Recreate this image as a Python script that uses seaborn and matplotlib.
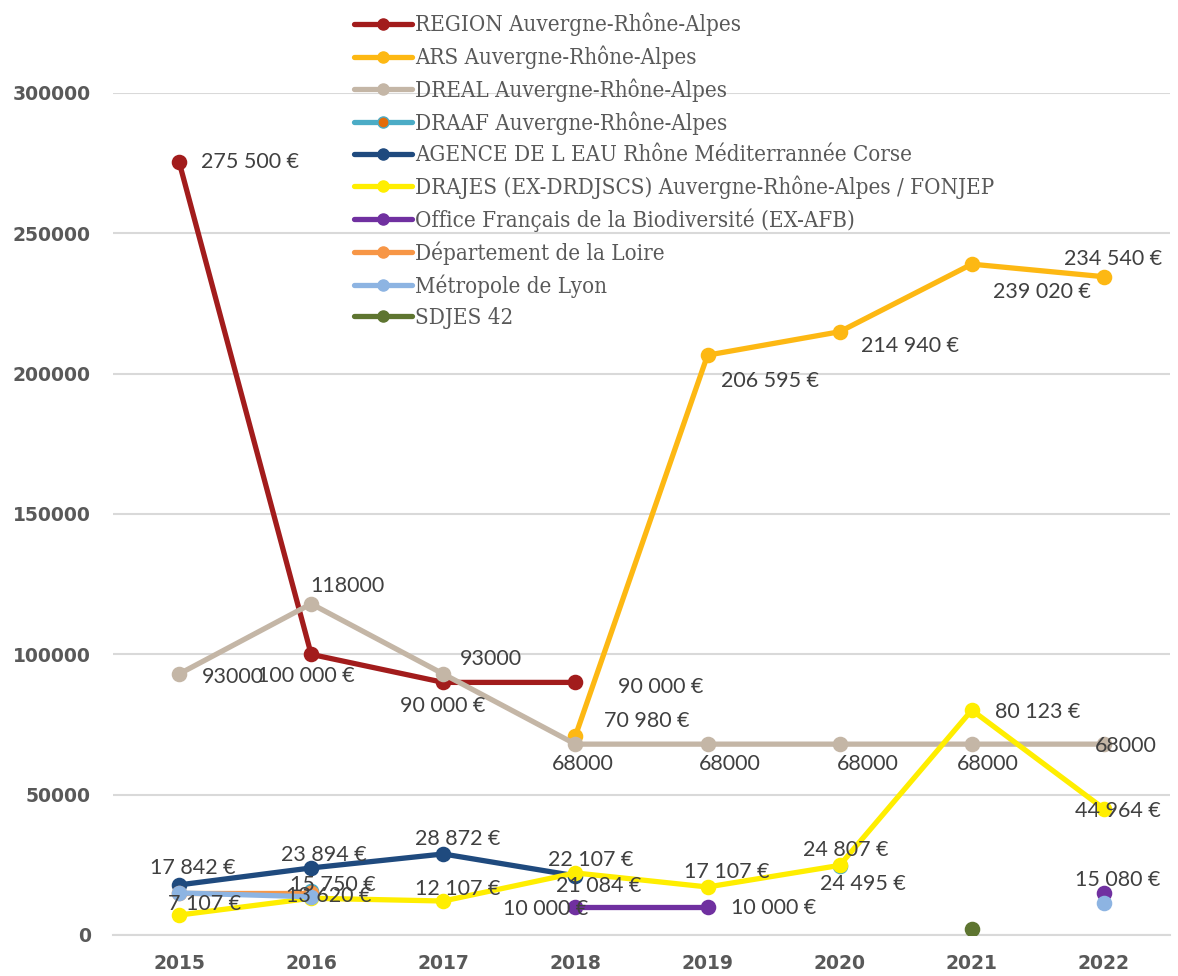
import numpy as np
import pandas as pd
import matplotlib
matplotlib.use("Agg")
import matplotlib.pyplot as plt
from matplotlib.lines import Line2D
import seaborn as sns

years = ["2015", "2016", "2017", "2018", "2019", "2020", "2021", "2022"]
nan = np.nan

series_names = [
    "REGION Auvergne-Rhône-Alpes",
    "ARS Auvergne-Rhône-Alpes",
    "DREAL Auvergne-Rhône-Alpes",
    "DRAAF Auvergne-Rhône-Alpes",
    "AGENCE DE L EAU Rhône Méditerrannée Corse",
    "DRAJES (EX-DRDJSCS) Auvergne-Rhône-Alpes / FONJEP",
    "Office Français de la Biodiversité (EX-AFB)",
    "Département de la Loire",
    "Métropole de Lyon",
    "SDJES 42",
]

region = [275500, 100000, 90000, 90000, nan, nan, nan, nan]
ars = [nan, nan, nan, 70980, 206595, 214940, 239020, 234540]
dreal = [93000, 118000, 93000, 68000, 68000, 68000, 68000, 68000]
draaf = [nan, 15750, nan, nan, nan, 24495, nan, nan]
agence = [17842, 23894, 28872, 21084, nan, nan, nan, nan]
drajes = [7107, 13107, 12107, 22107, 17107, 24807, 80123, 44964]
ofb = [nan, nan, nan, 10000, 10000, nan, nan, 15080]
loire = [15000, 15000, nan, nan, nan, nan, nan, nan]
metropole = [15000, 13620, nan, nan, nan, nan, nan, 11500]
sdjes = [nan, nan, nan, nan, nan, nan, 2000, nan]

region_lbl = ["275 500 €", "100 000 €", "90 000 €", "90 000 €", None, None, None, None]
ars_lbl = [None, None, None, "70 980 €", "206 595 €", "214 940 €", "239 020 €", "234 540 €"]
dreal_lbl = ["93000", "118000", "93000", "68000", "68000", "68000", "68000", "68000"]
draaf_lbl = [None, "15 750 €", None, None, None, "24 495 €", None, None]
agence_lbl = ["17 842 €", "23 894 €", "28 872 €", "21 084 €", None, None, None, None]
drajes_lbl = ["7 107 €", None, "12 107 €", "22 107 €", "17 107 €", "24 807 €", "80 123 €", "44 964 €"]
ofb_lbl = [None, None, None, "10 000 €", "10 000 €", None, None, "15 080 €"]
loire_lbl = [None] * 8
metropole_lbl = [None, "13 620 €", None, None, None, None, None, None]
sdjes_lbl = [None] * 8

values = [region, ars, dreal, draaf, agence, drajes, ofb, loire, metropole, sdjes]
labels = [region_lbl, ars_lbl, dreal_lbl, draaf_lbl, agence_lbl, drajes_lbl,
          ofb_lbl, loire_lbl, metropole_lbl, sdjes_lbl]

line_colors = ["#A21C1C", "#FDB813", "#C4B6A6", "#4BACC6", "#1F4A7E",
               "#FFEE00", "#7030A0", "#F79646", "#8DB4E2", "#5E7530"]
marker_faces = list(line_colors)
marker_faces[3] = "#E36C09"

# label offsets in pixels (dx, dy[up positive], ha)
offsets = [
    [(22, 0, "left"), (-5, -22, "center"), (-1, -24, "center"), (43, -5, "left"), None, None, None, None],
    [None, None, None, (29, 15, "left"), (13, -26, "left"), (21, -14, "left"), (21, -28, "left"), (9, 18, "center")],
    [(23, -3, "left"), (-1, 18, "left"), (17, 15, "left"), (7, -20, "center"), (22, -20, "center"), (28, -20, "center"), (16, -20, "center"), (-9, -2, "left")],
    [None, (22, 6, "center"), None, None, None, (23, -18, "center")],
    [(14, 17, "center"), (13, 13, "center"), (14, 15, "center"), (23, -10, "center")],
    [(26, 11, "center"), None, (14, 12, "center"), (15, 13, "center"), (19, 15, "center"), (6, 15, "center"), (23, -2, "left"), (14, -2, "center")],
    [None, None, None, (-30, -2, "center"), (23, -1, "left"), None, None, (14, 13, "center")],
    [None] * 8,
    [None, (17, 1, "center")] + [None] * 6,
    [None] * 8,
]

W, H = 1178, 976
fig = plt.figure(figsize=(W / 100, H / 100), dpi=100)
sns.set_style("white")
ax = fig.add_axes([113 / W, 1 - 935 / H, (1170 - 113) / W, (935 - 93) / H])

x_idx = np.arange(len(years))
for i, (name, vals) in enumerate(zip(series_names, values)):
    df = pd.DataFrame({"x": x_idx, "y": vals})
    valid = df["y"].notna().values
    seg_id = np.cumsum(~valid)
    for sid in np.unique(seg_id[valid]):
        seg = df[(seg_id == sid) & valid]
        sns.lineplot(data=seg, x="x", y="y", ax=ax, color=line_colors[i],
                     linewidth=3.8, marker="o", markersize=10,
                     markerfacecolor=marker_faces[i], markeredgecolor=line_colors[i],
                     markeredgewidth=1.2, zorder=3 + i, legend=False)

label_font = dict(family=["Lato", "DejaVu Sans"], fontsize=15.5, color="#404040")
for i, vals in enumerate(values):
    for j, v in enumerate(vals):
        lbl = labels[i][j]
        if lbl is None or np.isnan(v):
            continue
        off = offsets[i][j] if j < len(offsets[i]) else None
        if off is None:
            off = (0, 14, "center")
        dx, dy, ha = off
        ax.annotate(lbl, (j, v), xytext=(dx * 0.72, dy * 0.72), textcoords="offset points",
                    ha=ha, va="center", zorder=30, **label_font)

ax.set_xlim(-0.5, len(years) - 0.5)
ax.set_ylim(0, 300000)
ax.set_yticks(np.arange(0, 300001, 50000))
ax.set_xticks(x_idx)
ax.set_xticklabels(years)
ax.set_xlabel("")
ax.set_ylabel("")
ax.yaxis.grid(True, color="#D9D9D9", linewidth=1.5, zorder=0)
ax.set_axisbelow(True)
for s in ["top", "right", "left"]:
    ax.spines[s].set_visible(False)
ax.spines["bottom"].set_color("#D9D9D9")
ax.spines["bottom"].set_linewidth(1.5)
ax.tick_params(axis="both", length=0)
ax.tick_params(axis="y", pad=16)
ax.tick_params(axis="x", pad=14)
for t in ax.get_xticklabels() + ax.get_yticklabels():
    t.set_fontfamily("DejaVu Sans")
    t.set_fontweight("bold")
    t.set_fontsize(13.5)
    t.set_color("#595959")

handles = []
for i in range(len(series_names)):
    handles.append(Line2D([0], [0], color=line_colors[i], linewidth=3.8, marker="o",
                          markersize=8, markerfacecolor=marker_faces[i],
                          markeredgecolor=line_colors[i]))
leg = fig.legend(handles, series_names, loc="upper left",
                 bbox_to_anchor=(354 / W, 1 - 13 / H), frameon=False,
                 handlelength=2.6, handletextpad=0.15, labelspacing=0.42,
                 prop=dict(family="DejaVu Serif", stretch="condensed", size=16),
                 borderaxespad=0, borderpad=0)
for t in leg.get_texts():
    t.set_color("#595959")

fig.savefig("out.png", dpi=100)
